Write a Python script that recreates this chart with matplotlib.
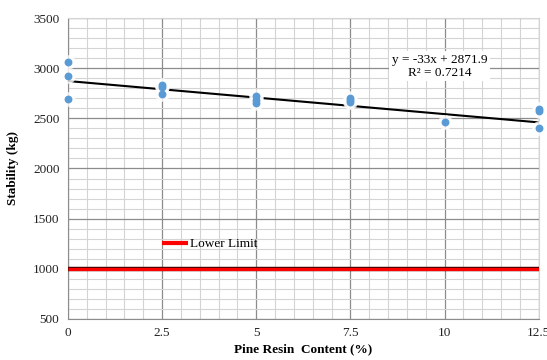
import matplotlib
matplotlib.use("Agg")
import matplotlib.pyplot as plt
import numpy as np
from matplotlib.ticker import MultipleLocator

# Data
resin = [0, 0, 0, 2.5, 2.5, 2.5, 5, 5, 5, 7.5, 7.5, 7.5, 10, 12.5, 12.5, 12.5]
stability = [3060, 2920, 2690, 2830, 2810, 2740, 2720, 2680, 2650, 2700, 2680, 2660, 2460, 2590, 2570, 2400]
slope = -33.0
intercept = 2871.9
r2 = 0.7214
lower_limit = 1000
x_ticks = [0, 2.5, 5, 7.5, 10, 12.5]
y_ticks = [500, 1000, 1500, 2000, 2500, 3000, 3500]

plt.rcParams['font.family'] = ['Liberation Serif', 'DejaVu Serif']

fig = plt.figure(figsize=(5.47, 3.6), dpi=100)
ax = fig.add_axes([0.124, 0.114, 0.861, 0.836])

ax.set_xlim(0, 12.5)
ax.set_ylim(500, 3500)
ax.set_xticks(x_ticks)
ax.set_xticklabels(['0', '2.5', '5', '7.5', '10', '12.5'])
ax.set_yticks(y_ticks)
ax.xaxis.set_minor_locator(MultipleLocator(0.5))
ax.yaxis.set_minor_locator(MultipleLocator(100))
ax.grid(which='major', color='#8c8c8c', linewidth=0.9)
ax.grid(which='minor', color='#d4d4d4', linewidth=0.8)
ax.set_axisbelow(True)
ax.tick_params(which='both', length=0, labelsize=9.5, colors='#222222', pad=6)
for s in ['top', 'right']:
    ax.spines[s].set_color('#d4d4d4')
for s in ['left', 'bottom']:
    ax.spines[s].set_color('#8c8c8c')

# Lower limit
xs = np.array([0, 12.5])
ax.plot(xs, [lower_limit, lower_limit], color='#500000', linewidth=3.2, solid_capstyle='butt', zorder=3)
ln, = ax.plot(xs, [lower_limit, lower_limit], color='#ff0000', linewidth=2.2, solid_capstyle='butt', zorder=3, label='Lower Limit')

# Trend line
ax.plot(xs, slope * xs + intercept, color='black', linewidth=1.5, zorder=4)

# Points with white glow
ax.scatter(resin, stability, s=110, color='white', alpha=0.8, zorder=5, linewidths=0)
ax.scatter(resin, stability, s=32, color='#5B9BD5', zorder=6, linewidths=0, clip_on=False)

ax.text(9.87, 3020, f"y = {slope:g}x + {intercept}\nR² = {r2}", ha='center', va='center',
        fontsize=9.5, linespacing=1.1, zorder=7,
        bbox=dict(facecolor='white', edgecolor='none', pad=2))

leg = ax.legend(handles=[ln], loc='center left', bbox_to_anchor=(0.2, 0.248),
                frameon=False, fontsize=9.5, handlelength=2.0, handletextpad=0.1,
                borderpad=0, borderaxespad=0)
leg.get_lines()[0].set_linewidth(3.0)

ax.set_xlabel('Pine Resin  Content (%)', fontsize=9.5, fontweight='bold', labelpad=3)
ax.set_ylabel('Stability (kg)', fontsize=9.5, fontweight='bold', labelpad=10)

fig.savefig('out.png', dpi=100)
